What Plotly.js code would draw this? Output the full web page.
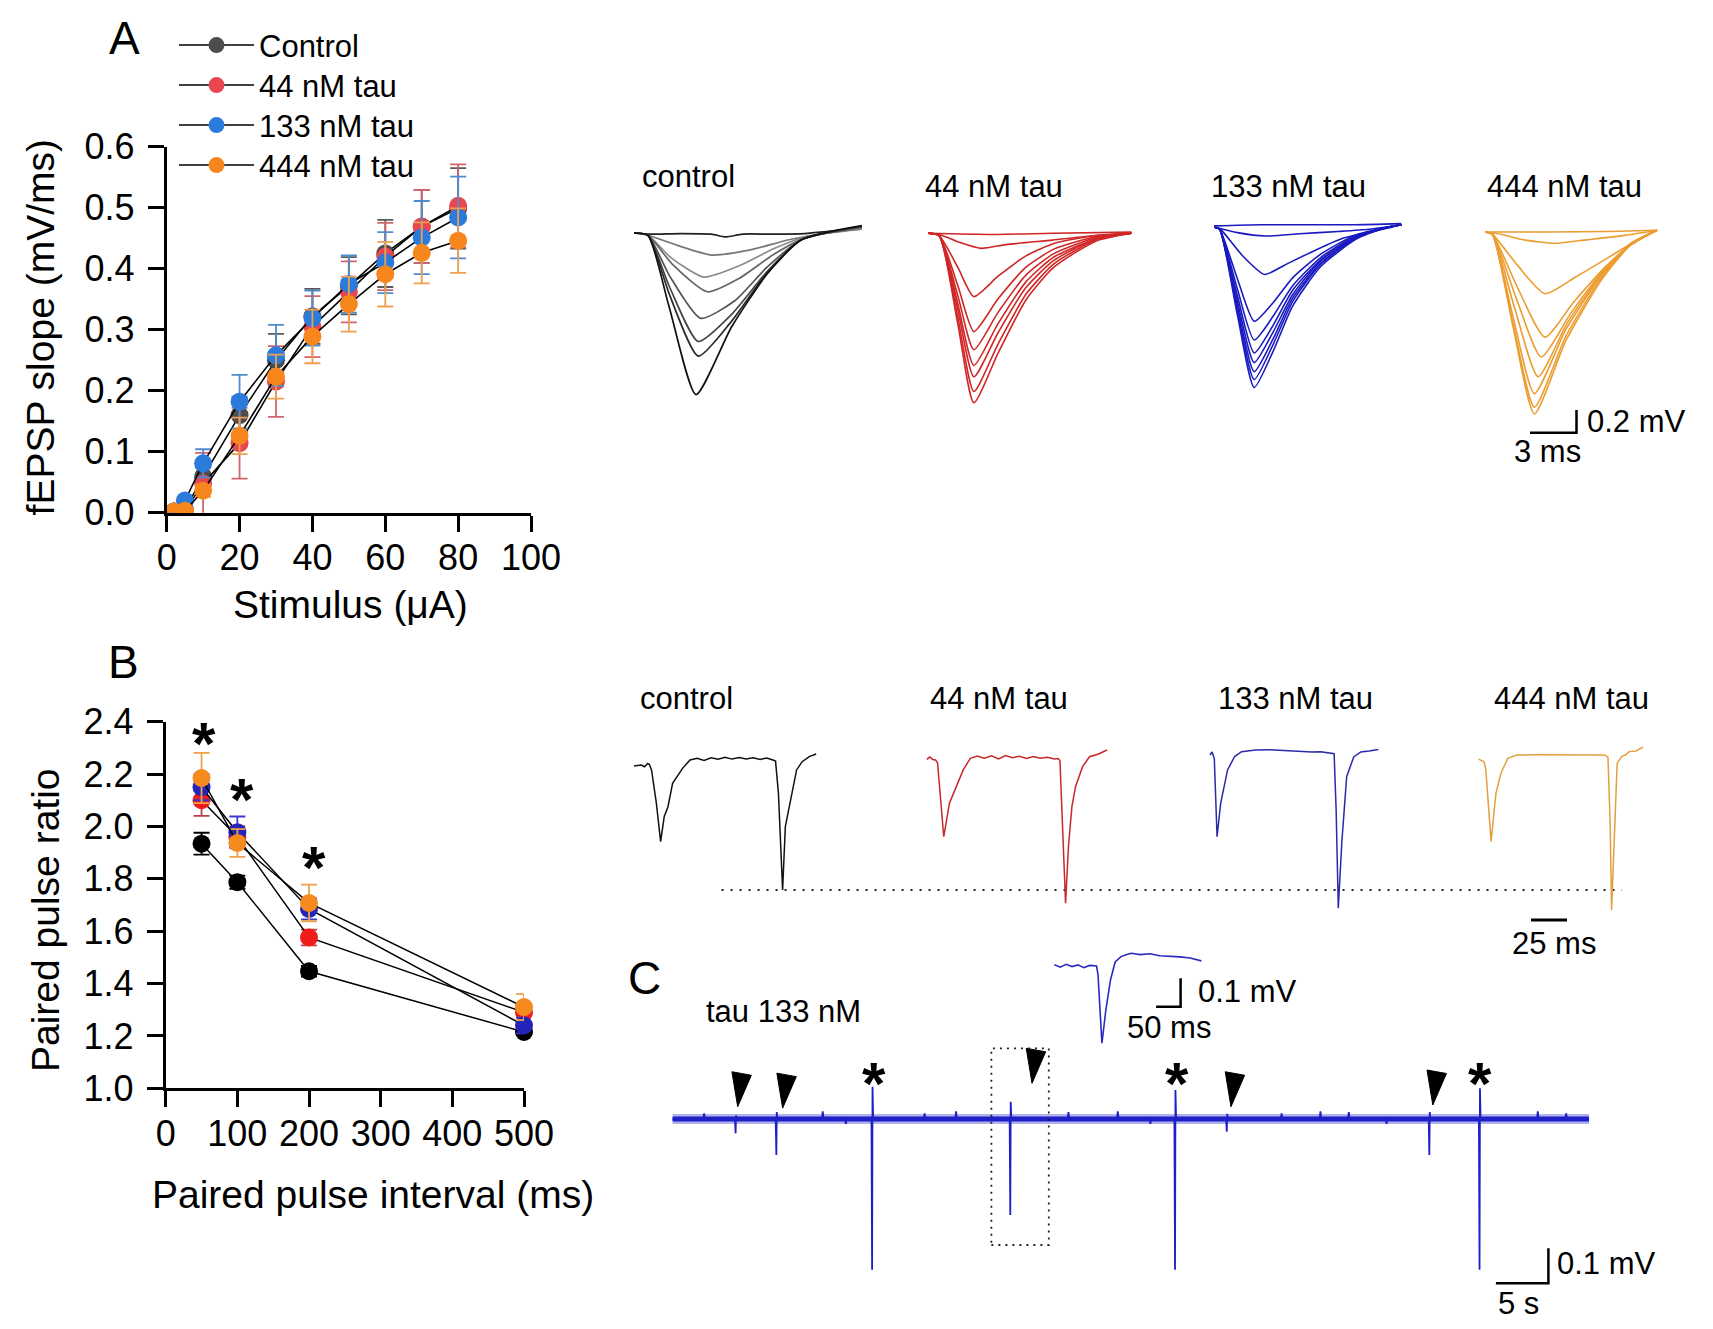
<!DOCTYPE html>
<html><head><meta charset="utf-8">
<script src="https://cdn.plot.ly/plotly-3.0.1.min.js"></script>
<style>html,body{margin:0;padding:0;background:#fff}#chart{width:1713px;height:1329px}</style>
</head><body><div id="chart"></div>
<script>
const W = 1713, H = 1329;
const FONT = 'Liberation Sans, Arial, Helvetica, sans-serif';

// ---------------- Panel A : input-output curve ----------------
const stimulusA = [2, 5, 10, 20, 30, 40, 50, 60, 70, 80];
const slopeControl = [0.002, 0.005, 0.059, 0.160, 0.250, 0.322, 0.372, 0.425, 0.469, 0.499];
const slope44 = [0.002, 0.003, 0.048, 0.114, 0.215, 0.305, 0.362, 0.420, 0.469, 0.503];
const slope133 = [0.002, 0.020, 0.081, 0.182, 0.258, 0.319, 0.375, 0.410, 0.451, 0.484];
const slope444 = [0.002, 0.003, 0.036, 0.126, 0.223, 0.289, 0.342, 0.391, 0.426, 0.446];
const errControl = [0, 0.003, 0.015, 0.030, 0.043, 0.045, 0.047, 0.055, 0.060, 0.066];
const err44 = [0, 0.003, 0.050, 0.058, 0.058, 0.050, 0.050, 0.055, 0.060, 0.068];
const err133 = [0, 0.005, 0.023, 0.044, 0.050, 0.045, 0.047, 0.050, 0.060, 0.067];
const err444 = [0, 0.003, 0.010, 0.030, 0.036, 0.044, 0.045, 0.053, 0.050, 0.053];
const seriesNames = ['Control', '44 nM tau', '133 nM tau', '444 nM tau'];
const xTicksA = [0, 20, 40, 60, 80, 100];
const yTicksA = [0, 0.1, 0.2, 0.3, 0.4, 0.5, 0.6];

// ---------------- Panel B : paired pulse ratio ----------------
const intervalB = [50, 100, 200, 500];
const ppControl = [1.934, 1.787, 1.447, 1.215];
const pp44 = [2.100, 1.960, 1.576, 1.290];
const pp133 = [2.150, 1.978, 1.685, 1.240];
const pp444 = [2.185, 1.937, 1.708, 1.310];
const ppErrControl = [0.042, 0.025, 0.020, 0.010];
const ppErr44 = [0.060, 0.040, 0.030, 0.030];
const ppErr133 = [0.050, 0.060, 0.040, 0.030];
const ppErr444 = [0.096, 0.053, 0.070, 0.050];
const starB_x = [53, 106, 207];
const starB_y = [2.349, 2.133, 1.872];
const xTicksB = [0, 100, 200, 300, 400, 500];
const yTicksB = [1.0, 1.2, 1.4, 1.6, 1.8, 2.0, 2.2, 2.4];

const groupLabels = ['control', '44 nM tau', '133 nM tau', '444 nM tau'];

// ---------------- Panel A traces (ms, mV) ----------------
const aCtrlT = [
  [0, 1, 3, 5, 5.9, 7, 9, 11, 14.7],
  [0, 0.9, 2.8, 5.0, 7.5, 10, 12.5, 14.7],
  [0, 0.9, 2.4, 4.5, 6.8, 9, 11, 14.7],
  [0, 0.9, 2.5, 4.75, 6.8, 9, 11, 14.7],
  [0, 0.9, 2.3, 4.3, 6.5, 8.6, 10.8, 14.7],
  [0, 0.9, 2.3, 4.15, 6.3, 8.6, 10.8, 14.7],
  [0, 0.9, 2.3, 4.15, 6.3, 8.6, 10.8, 14.7],
  [0, 0.9, 2.26, 4.0, 6.3, 8.6, 10.8, 14.7]];
const aCtrlV = [
  [0, -0.01, -0.005, -0.01, -0.035, -0.01, -0.01, -0.005, 0.045],
  [0, -0.02, -0.11, -0.195, -0.15, -0.06, 0.0, 0.035],
  [0, -0.02, -0.22, -0.39, -0.29, -0.14, -0.035, 0.045],
  [0, -0.02, -0.28, -0.52, -0.40, -0.19, -0.045, 0.05],
  [0, -0.02, -0.38, -0.755, -0.60, -0.30, -0.06, 0.055],
  [0, -0.02, -0.48, -0.96, -0.72, -0.34, -0.06, 0.06],
  [0, -0.02, -0.55, -1.09, -0.78, -0.35, -0.06, 0.06],
  [0, -0.02, -0.65, -1.43, -0.83, -0.36, -0.06, 0.065]];
const aCtrlColors = ['#222222', '#777777', '#8a8a8a', '#666666', '#555555', '#444444', '#2a2a2a', '#111111'];

const a44T = [
  [0, 4, 8, 13.1],
  [0, 0.9, 2.0, 3.4, 5, 8, 10.8, 13.1],
  [0, 0.7, 1.9, 2.94, 4.5, 6.3, 8.1, 10.8, 13.1],
  [0, 0.7, 1.9, 2.94, 4.5, 6.3, 8.1, 10.8, 13.1],
  [0, 0.7, 1.9, 2.94, 4.5, 6.3, 8.1, 10.8, 13.1],
  [0, 0.7, 1.9, 2.94, 4.5, 6.3, 8.1, 10.8, 13.1],
  [0, 0.7, 1.9, 2.94, 4.5, 6.3, 8.1, 10.8, 13.1],
  [0, 0.7, 1.9, 2.94, 4.5, 6.3, 8.1, 10.8, 13.1],
  [0, 0.7, 1.9, 2.94, 4.5, 6.3, 8.1, 10.8, 13.1]];
const a44V = [
  [0, -0.01, 0, 0.01],
  [0, -0.02, -0.08, -0.133, -0.10, -0.06, -0.02, 0],
  [0, -0.02, -0.30, -0.56, -0.38, -0.20, -0.09, -0.02, 0],
  [0, -0.02, -0.46, -0.87, -0.58, -0.30, -0.14, -0.03, 0],
  [0, -0.02, -0.55, -1.03, -0.70, -0.37, -0.18, -0.04, 0],
  [0, -0.02, -0.62, -1.17, -0.80, -0.43, -0.21, -0.05, 0],
  [0, -0.02, -0.67, -1.27, -0.88, -0.48, -0.24, -0.05, 0],
  [0, -0.02, -0.74, -1.40, -0.98, -0.54, -0.27, -0.06, 0],
  [0, -0.02, -0.80, -1.50, -1.06, -0.59, -0.30, -0.07, 0]];

const a133T = [
  [0, 3, 6, 9, 12.07],
  [0, 1.5, 3.3, 5.5, 8, 10, 12.07],
  [0, 0.4, 1.8, 3.25, 4.5, 6, 8.3, 10.9, 12.07],
  [0, 0.35, 1.5, 2.58, 3.8, 5.06, 6.87, 9.13, 10.94, 12.07],
  [0, 0.35, 1.5, 2.58, 3.8, 5.06, 6.87, 9.13, 10.94, 12.07],
  [0, 0.35, 1.5, 2.58, 3.8, 5.06, 6.87, 9.13, 10.94, 12.07],
  [0, 0.35, 1.5, 2.58, 3.8, 5.06, 6.87, 9.13, 10.94, 12.07],
  [0, 0.35, 1.5, 2.58, 3.8, 5.06, 6.87, 9.13, 10.94, 12.07],
  [0, 0.35, 1.5, 2.58, 3.8, 5.06, 6.87, 9.13, 10.94, 12.07],
  [0, 0.35, 1.5, 2.58, 3.8, 5.06, 6.87, 9.13, 10.94, 12.07]];
const a133V = [
  [0.01, 0.02, 0.02, 0.02, 0.03],
  [0, -0.05, -0.08, -0.06, -0.04, -0.02, 0.02],
  [0, -0.02, -0.25, -0.42, -0.34, -0.24, -0.10, -0.02, 0.02],
  [0, -0.02, -0.46, -0.835, -0.67, -0.45, -0.24, -0.07, -0.01, 0.02],
  [0, -0.02, -0.55, -1.00, -0.79, -0.52, -0.27, -0.08, -0.01, 0.02],
  [0, -0.02, -0.61, -1.115, -0.87, -0.56, -0.29, -0.09, -0.01, 0.02],
  [0, -0.02, -0.66, -1.20, -0.93, -0.60, -0.30, -0.09, -0.01, 0.02],
  [0, -0.02, -0.70, -1.28, -0.99, -0.63, -0.32, -0.10, -0.01, 0.02],
  [0, -0.02, -0.74, -1.35, -1.04, -0.66, -0.33, -0.10, -0.01, 0.02],
  [0, -0.02, -0.78, -1.42, -1.10, -0.70, -0.35, -0.11, -0.01, 0.02]];

const a444T = [
  [0, 4, 8, 11.07],
  [0, 1.0, 2.5, 4.5, 6.5, 9, 11.07],
  [0, 0.45, 2.1, 3.84, 5.8, 8.0, 9.8, 11.07],
  [0, 0.45, 2.1, 3.84, 5.7, 7.8, 9.6, 11.07],
  [0, 0.45, 2.0, 3.6, 5.5, 7.6, 9.4, 11.07],
  [0, 0.45, 1.9, 3.4, 5.3, 7.5, 9.3, 11.07],
  [0, 0.45, 1.8, 3.16, 5.2, 7.46, 9.27, 11.07],
  [0, 0.45, 1.8, 3.16, 5.2, 7.46, 9.27, 11.07],
  [0, 0.45, 1.8, 3.16, 5.2, 7.46, 9.27, 11.07]];
const a444V = [
  [0, 0, 0.005, 0.015],
  [0, -0.02, -0.07, -0.10, -0.07, -0.03, 0.015],
  [0, -0.02, -0.30, -0.546, -0.40, -0.22, -0.07, 0.015],
  [0, -0.02, -0.50, -0.93, -0.62, -0.30, -0.09, 0.015],
  [0, -0.02, -0.59, -1.106, -0.72, -0.34, -0.10, 0.015],
  [0, -0.02, -0.68, -1.28, -0.80, -0.37, -0.11, 0.015],
  [0, -0.02, -0.76, -1.43, -0.86, -0.39, -0.12, 0.015],
  [0, -0.02, -0.82, -1.55, -0.92, -0.41, -0.12, 0.015],
  [0, -0.02, -0.85, -1.61, -0.96, -0.43, -0.13, 0.015]];
const scaleA_ms = 3, scaleA_mV = 0.2;

// ---------------- Panel B traces (ms, mV) ----------------
const bCtrlT = [0, 5, 7.3, 9.5, 10.7, 12.2, 15.5, 18.5, 21, 23.6, 26.8, 33.7, 38.9, 43.8, 48.7, 53.5, 58.4, 63.2, 68.1, 73, 77.9, 82.7, 87.6, 92.2, 96.5, 98.3, 100.3, 101.7, 103.2, 105.1, 109.5, 112.9, 116.8, 121.7, 126.5];
const bCtrlV = [-0.053, -0.045, -0.06, -0.03, -0.04, -0.09, -0.38, -0.723, -0.50, -0.413, -0.206, -0.074, 0, 0.015, -0.005, 0.02, 0.006, 0.025, 0.008, 0.022, 0.01, 0.02, 0.005, 0.018, 0.0, -0.01, -0.295, -0.708, -1.15, -0.59, -0.295, -0.088, -0.015, 0.03, 0.053];
const b44T = [0, 2, 4.1, 6, 7.4, 9.5, 11.7, 13.5, 15.6, 20.4, 25.3, 30.2, 35, 39.9, 44.8, 49.7, 54.6, 59.4, 64.3, 69.1, 74, 78.8, 83.7, 88.5, 91, 92.4, 94.3, 96.3, 98.3, 100.7, 103.2, 108.1, 112.9, 119.2, 125.1];
const b44V = [-0.01, 0.012, -0.01, -0.015, -0.04, -0.35, -0.694, -0.56, -0.40, -0.251, -0.10, 0, 0.02, 0.0, 0.022, -0.005, 0.025, 0.005, 0.018, -0.002, 0.015, 0, 0.01, -0.006, -0.002, -0.02, -0.6, -1.283, -0.78, -0.428, -0.251, -0.074, 0.014, 0.038, 0.073];
const b133T = [0, 1.5, 3.0, 4.0, 4.9, 6, 7.4, 12.2, 17.1, 21.9, 31.7, 41.5, 51.2, 61, 70.6, 77, 82.8, 86.2, 87.6, 89.1, 91.5, 94.9, 99.8, 104.7, 110.5, 116.9];
const b133V = [-0.027, 0, -0.06, -0.4, -0.75, -0.62, -0.454, -0.159, -0.04, 0.003, 0.018, 0.02, 0.012, 0.01, 0, 0.003, -0.006, -0.015, -0.513, -1.383, -0.808, -0.218, -0.044, 0, 0.009, 0.022];
const b444T = [0, 3.8, 5, 6.4, 8.75, 12.1, 15.6, 20.3, 26.7, 40, 60, 80, 87.6, 89.9, 91.5, 92.4, 94.4, 96.3, 99.7, 102.1, 104.6, 109.4, 114.3];
const b444V = [-0.036, -0.06, -0.12, -0.398, -0.767, -0.339, -0.162, -0.03, 0, 0.002, 0, 0.002, 0, -0.02, -0.634, -1.372, -0.634, -0.074, -0.009, 0.0, 0.03, 0.036, 0.07];
const bRefLineT = [60.8, 686];   // dotted reference line at the control 2nd-pulse peak
const scaleB_ms = 25;

// ---------------- Panel C (s, mV) ----------------
const cEnd = 87.28;
const cEventT = [6.0, 9.88, 19.0, 32.16, 47.85, 52.78, 72.07, 76.85];
const cEventUp = [0.01, 0.02, 0.092, 0.049, 0.083, 0.015, 0.02, 0.088];
const cEventDown = [-0.041, -0.103, -0.431, -0.274, -0.431, -0.036, -0.103, -0.431];
const cBlipT = [3.0, 14.3, 16.5, 24.0, 27.0, 37.7, 42.4, 45.5, 58.0, 61.7, 64.4, 68.0, 82.4, 85.1];
const cBlipV = [0.016, 0.022, -0.014, 0.016, 0.022, 0.02, 0.022, -0.014, 0.016, 0.022, 0.02, -0.014, 0.022, 0.016];
const cArrowT = [6.2, 10.48, 34.23, 53.18, 72.4];
const cArrowV = [0.035, 0.031, 0.102, 0.035, 0.04];
const cStarT = [19.2, 48.0, 76.85];
const cStarV = [0.126, 0.126, 0.126];
const cBoxT = [30.36, 35.83];
const cBoxV = [-0.36, 0.202];
const scaleC_s = 5, scaleC_mV = 0.1;
// inset (ms, mV)
const insetT = [0, 12, 24, 36, 48, 60, 72, 86, 89, 97, 105, 114.5, 124, 136, 146, 157, 175, 195, 215, 236, 256, 277, 300];
const insetV = [0.004, -0.004, 0.006, -0.002, 0.004, -0.006, 0.002, 0, -0.03, -0.272, -0.155, -0.049, 0.014, 0.033, 0.04, 0.045, 0.040, 0.043, 0.036, 0.035, 0.032, 0.028, 0.018];
const scaleInset_ms = 50, scaleInset_mV = 0.1;

// ================= layout helpers =================
const layout = {
  width: W, height: H, margin: {l: 0, r: 0, t: 0, b: 0}, autosize: false,
  paper_bgcolor: '#fff', plot_bgcolor: 'rgba(0,0,0,0)',
  font: {family: FONT, color: '#000'},
  showlegend: true,
  annotations: []
};
// one legend box per entry so the rows sit at the reference spacing
const legendTops = [18.4, 58.4, 98.4, 138.4];
const legendIds = ['legend', 'legend2', 'legend3', 'legend4'];
legendIds.forEach((id, i) => {
  layout[id] = {x: 174 / W, y: 1 - legendTops[i] / H, xanchor: 'left', yanchor: 'top', bgcolor: 'rgba(0,0,0,0)',
    itemwidth: 75, font: {size: 31, family: FONT, color: '#000'}, tracegroupgap: 0};
});
function mainAxis(px0, px1, r, ticks, fmt, n, isX) {
  return {
    domain: isX ? [px0 / W, px1 / W] : [1 - px1 / H, 1 - px0 / H],
    range: r, tickmode: 'array', tickvals: ticks, tickformat: fmt,
    showline: true, linewidth: 3, linecolor: '#000', ticks: 'outside', ticklen: 16, tickwidth: 3, tickcolor: '#000',
    showgrid: false, zeroline: false, fixedrange: true, anchor: (isX ? 'y' : 'x') + n,
    tickfont: {size: 36, family: FONT, color: '#000'}, ticklabelstandoff: isX ? -5 : 6
  };
}
layout.xaxis = mainAxis(166.7, 531, [0, 100], xTicksA, 'd', '', true);
layout.yaxis = mainAxis(146.7, 512.7, [0, 0.6], yTicksA, '.1f', '', false);
layout.xaxis2 = mainAxis(165.7, 524, [0, 500], xTicksB, 'd', '2', true);
layout.yaxis2 = mainAxis(721.7, 1088.3, [1.0, 2.4], yTicksB, '.1f', '2', false);

function hiddenPair(n, x0, x1, X0, kx, y0, y1, Y0, ky) {
  layout['xaxis' + n] = {domain: [x0 / W, x1 / W], range: [(x0 - X0) / kx, (x1 - X0) / kx], anchor: 'y' + n, visible: false, fixedrange: true};
  layout['yaxis' + n] = {domain: [1 - y1 / H, 1 - y0 / H], range: [-(y1 - Y0) / ky, -(y0 - Y0) / ky], anchor: 'x' + n, visible: false, fixedrange: true};
}
// panel A trace groups
const kxA = 15.5, kyA = 113;
hiddenPair(3, 600, 900, 634, kxA, 150, 480, 233, kyA);
hiddenPair(4, 900, 1180, 928.3, kxA, 150, 480, 233.3, kyA);
hiddenPair(5, 1180, 1460, 1214.2, kxA, 150, 480, 227, kyA);
hiddenPair(6, 1460, 1713, 1485.4, kxA, 150, 480, 232, kyA);
// panel B trace groups
const kxB = 1.44, kyB = 113;
hiddenPair(7, 600, 1650, 634, kxB, 680, 960, 760, kyB);
hiddenPair(8, 900, 1180, 926.9, kxB, 680, 960, 758.3, kyB);
hiddenPair(9, 1180, 1460, 1210, kxB, 680, 960, 752, kyB);
hiddenPair(10, 1460, 1713, 1478.5, kxB, 680, 960, 755, kyB);
// panel C
hiddenPair(11, 640, 1713, 672.6, 10.5, 1030, 1300, 1119, 350);
hiddenPair(12, 1040, 1260, 1054.4, 0.49, 940, 1050, 966, 284);

function txt(text, px, py, size, extra) {
  return Object.assign({text: text, x: px / W, y: 1 - py / H, xref: 'paper', yref: 'paper', showarrow: false,
    xanchor: 'left', yanchor: 'middle', font: {size: size, family: FONT, color: '#000'}}, extra || {});
}
const ann = layout.annotations;
ann.push(txt('A', 124, 38, 46, {xanchor: 'center'}));
ann.push(txt('B', 123.6, 662, 46, {xanchor: 'center'}));
ann.push(txt('C', 644.5, 977.5, 46, {xanchor: 'center'}));
ann.push(txt('fEPSP slope (mV/ms)', 40.4, 327, 39, {xanchor: 'center', textangle: -90}));
ann.push(txt('Stimulus (μA)', 350, 604, 39, {xanchor: 'center'}));
ann.push(txt('Paired pulse ratio', 45, 920, 39, {xanchor: 'center', textangle: -90}));
ann.push(txt('Paired pulse interval (ms)', 373, 1194, 39, {xanchor: 'center'}));
const labA_x = [639.6, 922.7, 1208.6, 1485.4], labA_y = [176.7, 186.7, 186.7, 186.7];
const labB_x = [637.5, 928.3, 1215.6, 1492.4];
groupLabels.forEach((g, i) => {
  ann.push(txt(g, labA_x[i], labA_y[i], 31));
  ann.push(txt(g, labB_x[i], 699, 31));
});
ann.push(txt(scaleA_mV + ' mV', 1585, 421.7, 31));
ann.push(txt(scaleA_ms + ' ms', 1512, 451.7, 31));
ann.push(txt(scaleB_ms + ' ms', 1510, 943.3, 31));
ann.push(txt('tau 133 nM', 704, 1011.7, 31));
ann.push(txt(scaleInset_mV + ' mV', 1196, 991.7, 31));
ann.push(txt(scaleInset_ms + ' ms', 1124.5, 1027.3, 31));
ann.push(txt(scaleC_mV + ' mV', 1555.4, 1263.3, 31));
ann.push(txt(scaleC_s + ' s', 1496, 1303.3, 31));
// asterisks
const STAR = 60;
starB_x.forEach((x, i) => ann.push({text: '<b>*</b>', x: x, y: starB_y[i], xref: 'x2', yref: 'y2', showarrow: false,
  xanchor: 'center', yanchor: 'middle', yshift: -8, font: {size: STAR, family: FONT, color: '#000'}}));
cStarT.forEach((t, i) => ann.push({text: '<b>*</b>', x: t, y: cStarV[i], xref: 'x11', yref: 'y11', showarrow: false,
  xanchor: 'center', yanchor: 'middle', yshift: -9, font: {size: STAR, family: FONT, color: '#000'}}));

// ================= traces =================
const data = [];
// Panel A main
const colA = ['#4d4d4d', '#e8474f', '#2b7bdc', '#f7861c'];
const errColA = ['#5a5a5a', '#d0646c', '#4f8ccc', '#ef9f4f'];
[slopeControl, slope44, slope133, slope444].forEach((s, i) => {
  data.push({x: stimulusA, y: s, xaxis: 'x', yaxis: 'y', type: 'scatter', mode: 'lines+markers', name: seriesNames[i],
    line: {color: '#000', width: 1.6}, marker: {size: 18, color: colA[i]},
    error_y: {type: 'data', array: [errControl, err44, err133, err444][i], color: errColA[i], thickness: 1.8, width: 8},
    showlegend: true, legend: legendIds[i]});
});
// Panel B main
const colB = ['#000000', '#f01c1c', '#2424b8', '#f58a1f'];
const errColB = ['#000000', '#c0404a', '#3a3ad0', '#eea24a'];
[ppControl, pp44, pp133, pp444].forEach((s, i) => {
  data.push({x: intervalB, y: s, xaxis: 'x2', yaxis: 'y2', type: 'scatter', mode: 'lines+markers',
    line: {color: '#000', width: 1.5}, marker: {size: 18, color: colB[i]}, cliponaxis: false,
    error_y: {type: 'data', array: [ppErrControl, ppErr44, ppErr133, ppErr444][i], color: errColB[i], thickness: 1.8, width: 8},
    showlegend: false});
});
// trace groups
function addTraces(T, V, ax, colors, width, shape) {
  T.forEach((t, i) => data.push({x: t, y: V[i], xaxis: 'x' + ax, yaxis: 'y' + ax, type: 'scatter', mode: 'lines',
    line: {color: Array.isArray(colors) ? colors[i] : colors, width: width, shape: shape, smoothing: 0.6},
    showlegend: false, hoverinfo: 'skip'}));
}
addTraces(aCtrlT, aCtrlV, 3, aCtrlColors, 1.7, 'spline');
addTraces(a44T, a44V, 4, '#d02626', 1.6, 'spline');
addTraces(a133T, a133V, 5, '#1a1ac0', 1.6, 'spline');
addTraces(a444T, a444V, 6, '#eb9d30', 1.6, 'spline');
// scale bar A (orange group axes)
const sbA = {t: (1576.5 - 1485.4) / kxA, v: -(432.7 - 232) / kyA};
data.push({x: [sbA.t - scaleA_ms, sbA.t, sbA.t], y: [sbA.v, sbA.v, sbA.v + scaleA_mV], xaxis: 'x6', yaxis: 'y6',
  mode: 'lines', line: {color: '#000', width: 2.5}, showlegend: false});
// Panel B traces
addTraces([bCtrlT], [bCtrlV], 7, '#111111', 1.5, 'linear');
addTraces([b44T], [b44V], 8, '#c62828', 1.5, 'linear');
addTraces([b133T], [b133V], 9, '#2a2aa8', 1.5, 'linear');
addTraces([b444T], [b444V], 10, '#e2a040', 1.5, 'linear');
const bPeak = Math.min.apply(null, bCtrlV);
data.push({x: bRefLineT, y: [bPeak, bPeak], xaxis: 'x7', yaxis: 'y7', mode: 'lines',
  line: {color: '#222', width: 2, dash: '2px,7px'}, showlegend: false});
const sbB = {t: (1531 - 1478.5) / kxB, v: -(920 - 755) / kyB};
data.push({x: [sbB.t, sbB.t + scaleB_ms], y: [sbB.v, sbB.v], xaxis: 'x10', yaxis: 'y10',
  mode: 'lines', line: {color: '#000', width: 3}, showlegend: false});
// Panel C main trace
const cx = [0], cy = [0];
const evs = [];
cEventT.forEach((t, i) => evs.push({t: t, kind: 'e', i: i}));
cBlipT.forEach((t, i) => evs.push({t: t, kind: 'b', i: i}));
evs.sort((a, b) => a.t - b.t);
evs.forEach(e => {
  if (e.kind === 'e') { cx.push(e.t - 0.06, e.t, e.t + 0.04, e.t + 0.1); cy.push(0, cEventDown[e.i], cEventUp[e.i], 0); }
  else { cx.push(e.t - 0.08, e.t, e.t + 0.08); cy.push(0, cBlipV[e.i], 0); }
});
cx.push(cEnd); cy.push(0);
data.push({x: [0, cEnd], y: [0, 0], xaxis: 'x11', yaxis: 'y11', mode: 'lines', line: {color: 'rgba(31,31,200,0.35)', width: 10}, showlegend: false});
data.push({x: [0, cEnd], y: [0, 0], xaxis: 'x11', yaxis: 'y11', mode: 'lines', line: {color: '#1f1fc8', width: 5}, showlegend: false});
data.push({x: cx, y: cy, xaxis: 'x11', yaxis: 'y11', mode: 'lines', line: {color: '#1f1fc8', width: 1.8}, showlegend: false});
// arrowheads
cArrowT.forEach((t, i) => {
  const v = cArrowV[i];
  data.push({x: [t - 0.55, t + 1.3, t, t - 0.55], y: [v + 0.1, v + 0.09, v, v + 0.1], xaxis: 'x11', yaxis: 'y11',
    mode: 'lines', fill: 'toself', fillcolor: '#000', line: {color: '#000', width: 1}, showlegend: false});
});
// dotted box
data.push({x: [cBoxT[0], cBoxT[1], cBoxT[1], cBoxT[0], cBoxT[0]], y: [cBoxV[0], cBoxV[0], cBoxV[1], cBoxV[1], cBoxV[0]],
  xaxis: 'x11', yaxis: 'y11', mode: 'lines', line: {color: '#222', width: 1.8, dash: '2px,5px'}, showlegend: false});
// scale bar C
const sbC = {t: (1548.4 - 672.6) / 10.5, v: -(1283.3 - 1119) / 350};
data.push({x: [sbC.t - scaleC_s, sbC.t, sbC.t], y: [sbC.v, sbC.v, sbC.v + scaleC_mV], xaxis: 'x11', yaxis: 'y11',
  mode: 'lines', line: {color: '#000', width: 2.5}, showlegend: false});
// inset
data.push({x: insetT, y: insetV, xaxis: 'x12', yaxis: 'y12', mode: 'lines', line: {color: '#2a2ac0', width: 1.6}, showlegend: false});
const sbI = {t: (1180.6 - 1054.4) / 0.49, v: -(1006.7 - 966) / 284};
data.push({x: [sbI.t - scaleInset_ms, sbI.t, sbI.t], y: [sbI.v, sbI.v, sbI.v + scaleInset_mV], xaxis: 'x12', yaxis: 'y12',
  mode: 'lines', line: {color: '#000', width: 2.5}, showlegend: false});

Plotly.newPlot('chart', data, layout, {staticPlot: true, displayModeBar: false});
</script></body></html>
